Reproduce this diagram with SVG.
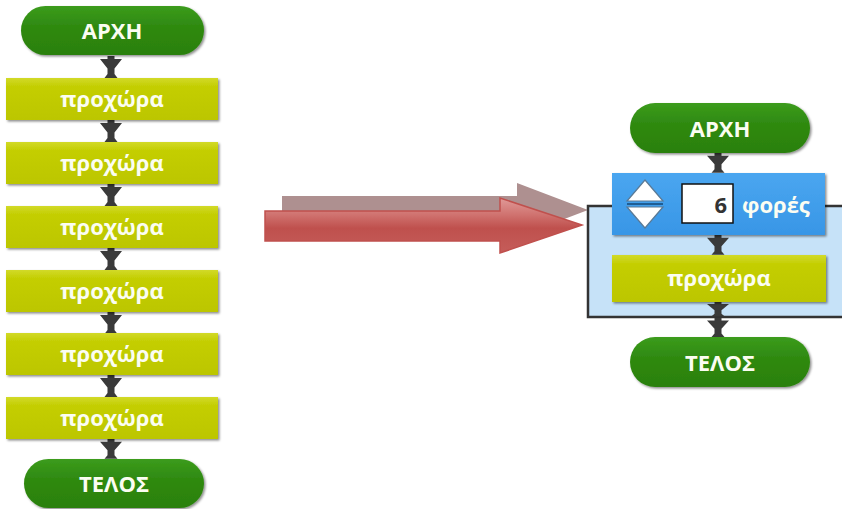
<svg xmlns="http://www.w3.org/2000/svg" width="842" height="509" viewBox="0 0 842 509">
<defs>
<linearGradient id="gGreen" x1="0" y1="0" x2="0" y2="1">
<stop offset="0" stop-color="#3c9c1c"/><stop offset="0.4" stop-color="#2f8a11"/><stop offset="1" stop-color="#2b800e"/>
</linearGradient>
<linearGradient id="gYellow" x1="0" y1="0" x2="0" y2="1">
<stop offset="0" stop-color="#d2da2a"/><stop offset="0.2" stop-color="#c4ce02"/><stop offset="1" stop-color="#bcc600"/>
</linearGradient>
<linearGradient id="gBlue" x1="0" y1="0" x2="0" y2="1">
<stop offset="0" stop-color="#4aa6f0"/><stop offset="1" stop-color="#3896e6"/>
</linearGradient>
<linearGradient id="gRed" x1="0" y1="0" x2="0" y2="1">
<stop offset="0" stop-color="#e09a98"/><stop offset="0.3" stop-color="#d07370"/><stop offset="0.55" stop-color="#bf504d"/><stop offset="1" stop-color="#c55d5a"/>
</linearGradient>
<filter id="sh" x="-10%" y="-20%" width="120%" height="150%">
<feDropShadow dx="1.5" dy="1.5" stdDeviation="1" flood-color="#000" flood-opacity="0.45"/>
</filter>
<path id="conn" d="M-3.5,0 H3.5 V3 H11 L3.5,12.5 V18 L6.5,22 H-6.5 L-3.5,18 V12.5 L-11,3 H-3.5 Z"/>
<style>
.pill{fill:url(#gGreen);filter:url(#sh)}
.blk{fill:url(#gYellow);filter:url(#sh)}
.rep{fill:url(#gBlue);filter:url(#sh)}
.t{font-family:"Open Sans","DejaVu Sans",sans-serif;font-weight:bold;font-size:22px;fill:#fbfdf2;text-anchor:middle}
.c{fill:#3a3a3a}
</style>
</defs>

<!-- big arrows -->
<g id="bigarrow">
<polygon points="282,196 517,196 517,183 588,210 517,237 517,226 282,226" fill="#ae9090"/>
<polygon points="265,211 500,211 500,198 582,225 500,253 500,241 265,241" fill="url(#gRed)" stroke="#c0504d" stroke-width="1.5"/>
</g>

<!-- loop container -->
<g id="loop">
<rect x="588" y="206" width="262" height="111" fill="#c6e2f8" stroke="#333333" stroke-width="2.5"/>
</g>

<g id="connectors">
<use href="#conn" class="c" transform="translate(111,56)"/>
<use href="#conn" class="c" transform="translate(111,120)"/>
<use href="#conn" class="c" transform="translate(111,184)"/>
<use href="#conn" class="c" transform="translate(111,248)"/>
<use href="#conn" class="c" transform="translate(111,312)"/>
<use href="#conn" class="c" transform="translate(111,375)"/>
<use href="#conn" class="c" transform="translate(111,439) scale(1,0.9)"/>
<use href="#conn" class="c" transform="translate(718,153) scale(1,0.9)"/>
<use href="#conn" class="c" transform="translate(718,235) scale(1,0.9)"/>
<use href="#conn" class="c" transform="translate(718,302) scale(1,0.65)"/>
<use href="#conn" class="c" transform="translate(718,318) scale(1,0.86)"/>
</g>

<!-- left column -->
<g id="start1"><rect class="pill" x="21" y="6" width="183" height="49" rx="24.5"/><text class="t" x="112" y="39">ΑΡΧΗ</text></g>
<g id="fwd1"><rect class="blk" x="6" y="78" width="212" height="42"/><text class="t" x="112" y="107">προχώρα</text></g>
<g id="fwd2"><rect class="blk" x="6" y="142" width="212" height="42"/><text class="t" x="112" y="171">προχώρα</text></g>
<g id="fwd3"><rect class="blk" x="6" y="206" width="212" height="42"/><text class="t" x="112" y="235">προχώρα</text></g>
<g id="fwd4"><rect class="blk" x="6" y="270" width="212" height="42"/><text class="t" x="112" y="299">προχώρα</text></g>
<g id="fwd5"><rect class="blk" x="6" y="333" width="212" height="42"/><text class="t" x="112" y="362">προχώρα</text></g>
<g id="fwd6"><rect class="blk" x="6" y="397" width="212" height="42"/><text class="t" x="112" y="426">προχώρα</text></g>
<g id="end1"><rect class="pill" x="24" y="459" width="180" height="49" rx="24.5"/><text class="t" x="114" y="492">ΤΕΛΟΣ</text></g>

<!-- right column -->
<g id="start2"><rect class="pill" x="630" y="103" width="180" height="50" rx="25"/><text class="t" x="720" y="137">ΑΡΧΗ</text></g>
<g id="repeat">
<rect class="rep" x="612" y="173" width="213" height="62"/>
<polygon points="645,180 663,201 627,201" fill="#ffffff" stroke="#5a7a96" stroke-width="1.2"/>
<polygon points="627,207 663,207 645,228" fill="#ffffff" stroke="#5a7a96" stroke-width="1.2"/>
<line x1="627" y1="204" x2="663" y2="204" stroke="#1f5d93" stroke-width="2"/>
<rect x="682" y="184" width="51" height="39" fill="#ffffff" stroke="#111111" stroke-width="1.5"/>
<text class="t" x="727" y="213" style="text-anchor:end;fill:#333333">6</text>
<text class="t" x="742" y="213" style="text-anchor:start">φορές</text>
</g>
<g id="fwd7"><rect class="blk" x="612" y="255" width="214" height="47"/><text class="t" x="719" y="286">προχώρα</text></g>
<g id="end2"><rect class="pill" x="630" y="337" width="180" height="50" rx="25"/><text class="t" x="720" y="371">ΤΕΛΟΣ</text></g>
</svg>
